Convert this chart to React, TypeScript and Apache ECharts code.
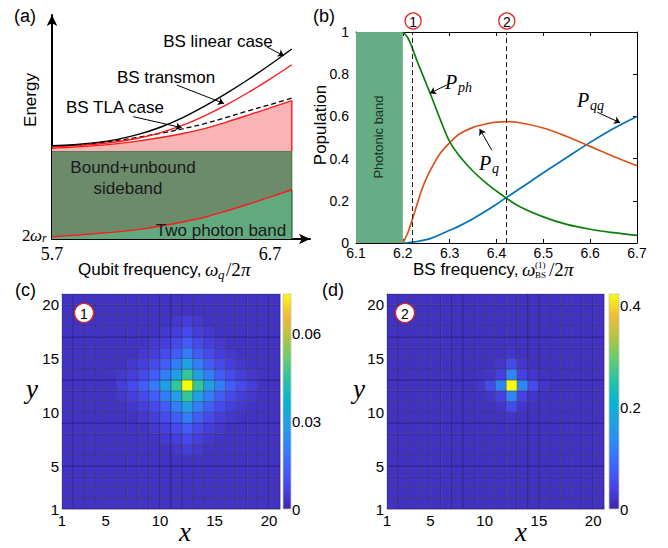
import React, { useEffect, useRef } from 'react';
import * as echarts from 'echarts';

const SANS = '"Liberation Sans", Arial, sans-serif';
const SERIF = '"Liberation Serif", "Times New Roman", serif';

// ---------- Panel (a): energy vs qubit frequency ----------
const qubitFreq = [5.7, 5.8, 5.9, 6.0, 6.1, 6.2, 6.3, 6.4, 6.5, 6.6, 6.7, 6.8];
const bsLinear = [0.417, 0.421, 0.43, 0.445, 0.468, 0.5, 0.542, 0.593, 0.65, 0.712, 0.778, 0.848];
const bsTransmon = [0.412, 0.416, 0.423, 0.434, 0.451, 0.475, 0.508, 0.55, 0.599, 0.654, 0.714, 0.778];
const bsTLA = [0.412, 0.419, 0.428, 0.44, 0.455, 0.472, 0.492, 0.515, 0.543, 0.572, 0.6, 0.629];
const pinkTop = [0.405, 0.41, 0.417, 0.426, 0.438, 0.453, 0.471, 0.493, 0.522, 0.553, 0.585, 0.618];
const twoPhotonTop = [0.01, 0.016, 0.024, 0.032, 0.043, 0.058, 0.076, 0.097, 0.125, 0.155, 0.187, 0.22];
const boundLevel = 0.393;
const qubitTickLabels = [5.7, 6.7];

// ---------- Panel (b): populations vs BS frequency ----------
const bsFreq = [6.2, 6.21, 6.22, 6.23, 6.24, 6.25, 6.26, 6.28, 6.3, 6.32, 6.35, 6.38, 6.4, 6.42, 6.45, 6.5, 6.55, 6.6, 6.65, 6.7];
const pPh = [1.0, 0.975, 0.925, 0.865, 0.81, 0.755, 0.7, 0.585, 0.48, 0.415, 0.34, 0.28, 0.246, 0.214, 0.172, 0.124, 0.088, 0.065, 0.049, 0.036];
const pQ = [0, 0.045, 0.11, 0.18, 0.25, 0.305, 0.35, 0.425, 0.475, 0.515, 0.548, 0.566, 0.573, 0.575, 0.57, 0.545, 0.505, 0.458, 0.41, 0.366];
const pQQ = [0, 0.001, 0.004, 0.007, 0.011, 0.016, 0.022, 0.04, 0.06, 0.08, 0.115, 0.155, 0.184, 0.214, 0.258, 0.333, 0.405, 0.477, 0.543, 0.6];
const markerFreqs = [6.222, 6.422];
const photonicBand = [6.1, 6.2];

// ---------- Panels (c),(d): lattice populations ----------
const latticeTicks = [1, 5, 10, 15, 20];
const N = 20;
const maxC = 0.0736;
const maxD = 0.423;
const cTicks = [0, 0.03, 0.06];
const dTicks = [0, 0.2, 0.4];
// (c) values x1e-3, window columns x=6..18, rows y=18 (top) .. 6
const bgC = 3.3;
const winC = [
  [3.3, 3.3, 3.3, 3.3, 3.3, 4.5, 6, 4.5, 3.3, 3.3, 3.3, 3.3, 3.3],
  [3.3, 3.3, 3.3, 3.3, 4.5, 6, 9, 6, 4.5, 3.3, 3.3, 3.3, 3.3],
  [3.3, 3.3, 3.3, 4.5, 6, 9, 13, 9, 6, 4.5, 3.3, 3.3, 3.3],
  [3.3, 3.3, 4.5, 6, 9, 13, 20, 13, 9, 6, 4.5, 3.3, 3.3],
  [3.3, 4.5, 6, 9, 13, 20, 29, 20, 13, 9, 6, 4.5, 3.3],
  [4.5, 6, 9, 13, 20, 29, 45.5, 29, 20, 13, 9, 6, 4.5],
  [6, 9, 13, 20, 29, 45.5, 73.6, 45.5, 29, 20, 13, 9, 6],
  [4.5, 6, 9, 13, 20, 29, 45.5, 29, 20, 13, 9, 6, 4.5],
  [3.3, 4.5, 6, 9, 13, 20, 29, 20, 13, 9, 6, 4.5, 3.3],
  [3.3, 3.3, 4.5, 6, 9, 13, 20, 13, 9, 6, 4.5, 3.3, 3.3],
  [3.3, 3.3, 3.3, 4.5, 6, 9, 13, 9, 6, 4.5, 3.3, 3.3, 3.3],
  [3.3, 3.3, 3.3, 3.3, 4.5, 6, 9, 6, 4.5, 3.3, 3.3, 3.3, 3.3],
  [3.3, 3.3, 3.3, 3.3, 3.3, 4.5, 6, 4.5, 3.3, 3.3, 3.3, 3.3, 3.3],
];
const winCx0 = 6;
const winCyTop = 18;
// (d) values x1e-3, window columns x=9..15, rows y=15 (top) .. 9
const bgD = 17;
const winD = [
  [17, 17, 17, 24, 17, 17, 17],
  [17, 17, 24, 50, 24, 17, 17],
  [17, 24, 38, 125, 38, 24, 17],
  [24, 50, 125, 423, 125, 50, 24],
  [17, 24, 38, 125, 38, 24, 17],
  [17, 17, 24, 50, 24, 17, 17],
  [17, 17, 17, 24, 17, 17, 17],
];
const winDx0 = 9;
const winDyTop = 15;

const PARULA = ['#3E26A8', '#4743E8', '#4163FD', '#2E87F7', '#1FA1E3', '#05B5CF', '#29C3A5', '#66CC70', '#B3C540', '#F0BC37', '#F9FB0E'];

function buildCells(bg: number, win: number[][], x0: number, yTop: number) {
  const out: number[][] = [];
  for (let x = 1; x <= N; x++) {
    for (let y = 1; y <= N; y++) {
      const r = yTop - y;
      const c = x - x0;
      let v = bg;
      if (r >= 0 && r < win.length && c >= 0 && c < win[0].length) v = win[r][c];
      out.push([x, y, v / 1000]);
    }
  }
  return out;
}

// ---------- layout ----------
const GA = { left: 52, top: 15, width: 258, height: 224 };
const A_XMAX = 5.7 + 258 / 218;
const GB = { left: 356, top: 32, width: 281, height: 211 };
const GC = { left: 62, top: 294, width: 218, height: 215 };
const GD = { left: 387, top: 294, width: 217, height: 215 };
const GCBC = { left: 283, top: 294, width: 8, height: 215 };
const GCBD = { left: 609, top: 294, width: 10, height: 215 };

const bx = (v: number) => GB.left + ((v - 6.1) / 0.6) * GB.width;

function txt(text: string, x: number, y: number, o: any = {}) {
  return {
    type: 'text',
    x,
    y,
    z: 100,
    silent: true,
    rotation: o.rotation || 0,
    style: {
      text,
      fill: o.fill || '#000',
      fontSize: o.size || 16,
      fontFamily: o.family || SANS,
      fontStyle: o.italic ? 'italic' : 'normal',
      align: o.align || 'left',
      verticalAlign: o.va || 'middle',
      textAlign: o.align || 'left',
      textVerticalAlign: o.va || 'middle',
    },
  };
}

function circled(label: string, cx: number, cy: number, r: number, size: number) {
  return [
    { type: 'circle', z: 99, silent: true, shape: { cx, cy, r }, style: { fill: '#fff', stroke: '#e0241b', lineWidth: 1.3 } },
    txt(label, cx, cy + 0.5, { align: 'center', size }),
  ];
}

export default function App() {
  const ref = useRef<HTMLDivElement>(null);
  useEffect(() => {
    if (!ref.current) return;
    const chart = echarts.init(ref.current, undefined, { renderer: 'svg' });

    const pts = (xs: number[], ys: number[]) => xs.map((x, i) => [x, ys[i]]);
    const cellsC = buildCells(bgC, winC, winCx0, winCyTop);
    const cellsD = buildCells(bgD, winD, winDx0, winDyTop);

    const heatRender = (params: any, api: any) => {
      const x = api.value(0);
      const y = api.value(1);
      const p0 = api.coord([x, y + 1]);
      const p1 = api.coord([x + 1, y]);
      return {
        type: 'rect',
        shape: { x: p0[0], y: p0[1], width: p1[0] - p0[0], height: p1[1] - p0[1] },
        style: { fill: api.visual('color'), stroke: 'rgba(0,0,0,0.3)', lineWidth: 0.8 },
      };
    };
    const barRender = (params: any, api: any) => {
      const p0 = api.coord([0, api.value(1)]);
      const p1 = api.coord([1, 0]);
      return {
        type: 'rect',
        shape: { x: p0[0], y: p0[1], width: p1[0] - p0[0], height: p1[1] - p0[1] },
        style: {
          fill: new echarts.graphic.LinearGradient(0, 1, 0, 0, PARULA.map((c, i) => ({ offset: i / (PARULA.length - 1), color: c }))),
          stroke: '#c4c4c4',
          lineWidth: 0.8,
        },
      };
    };

    const lineS = (xi: number, yi: number, data: any, color: string, extra: any = {}) => ({
      type: 'line',
      xAxisIndex: xi,
      yAxisIndex: yi,
      data,
      showSymbol: false,
      symbol: 'none',
      smooth: 0.35,
      lineStyle: { color, width: 1.4 },
      z: 3,
      ...extra,
    });

    const series: any[] = [];
    // panel (a)
    series.push({
      type: 'line', xAxisIndex: 0, yAxisIndex: 0, symbol: 'none', showSymbol: false,
      data: [[5.7, boundLevel], [6.8, boundLevel], [6.8, 0]],
      lineStyle: { color: '#3f6b4c', width: 1 },
      areaStyle: { color: '#6B8B6A', opacity: 1, origin: 0 },
      z: 1,
    });
    series.push({
      ...lineS(0, 0, pts(qubitFreq, twoPhotonTop), '#ff1a1a'),
      areaStyle: { color: '#63A980', opacity: 1, origin: 0 },
      z: 2,
    });
    series.push({
      ...lineS(0, 0, pts(qubitFreq, pinkTop), '#ff1a1a'),
      areaStyle: { color: '#FAB4B4', opacity: 1, origin: boundLevel },
      z: 2,
    });
    series.push({
      type: 'line', xAxisIndex: 0, yAxisIndex: 0, symbol: 'none', showSymbol: false, z: 3,
      data: [[6.8, boundLevel], [6.8, pinkTop[pinkTop.length - 1]]],
      lineStyle: { color: '#ff1a1a', width: 1.4 },
    });
    series.push({
      type: 'line', xAxisIndex: 0, yAxisIndex: 0, symbol: 'none', showSymbol: false, z: 3,
      data: [[6.8, 0], [6.8, twoPhotonTop[twoPhotonTop.length - 1]]],
      lineStyle: { color: '#2f6b45', width: 1.2 },
    });
    series.push(lineS(0, 0, pts(qubitFreq, bsTLA), '#000', { lineStyle: { color: '#000', width: 1.3, type: [5, 3] } }));
    series.push(lineS(0, 0, pts(qubitFreq, bsTransmon), '#ff1a1a'));
    series.push(lineS(0, 0, pts(qubitFreq, bsLinear), '#000'));
    series.push({
      type: 'lines', coordinateSystem: 'cartesian2d', xAxisIndex: 0, yAxisIndex: 0, z: 5,
      symbol: ['none', 'arrow'], symbolSize: 6,
      lineStyle: { color: '#000', width: 1, opacity: 1 },
      data: [
        { coords: [[6.685, 0.858], [6.764, 0.818]] },
        { coords: [[6.272, 0.6875], [6.489, 0.605]] },
        { coords: [[6.073, 0.546], [6.295, 0.497]] },
      ],
    });
    // panel (b)
    series.push({
      type: 'line', xAxisIndex: 1, yAxisIndex: 1, symbol: 'none', showSymbol: false,
      data: [[photonicBand[0], 1], [photonicBand[1], 1]],
      lineStyle: { width: 0 },
      areaStyle: { color: '#66AD86', opacity: 1, origin: 'start' },
      z: 1,
    });
    series.push({
      type: 'line', xAxisIndex: 1, yAxisIndex: 1, symbol: 'none', data: [],
      markLine: {
        silent: true, symbol: 'none', label: { show: false },
        lineStyle: { color: '#222', width: 1, type: [5, 3] },
        data: markerFreqs.map((v) => ({ xAxis: v })),
      },
    });
    series.push(lineS(1, 1, pts(bsFreq, pQQ), '#0072BD', { lineStyle: { color: '#0072BD', width: 1.7 } }));
    series.push(lineS(1, 1, pts(bsFreq, pQ), '#D95319', { lineStyle: { color: '#D95319', width: 1.7 } }));
    series.push(lineS(1, 1, pts(bsFreq, pPh), '#0A800A', { lineStyle: { color: '#0A800A', width: 1.7 } }));
    series.push({
      type: 'lines', coordinateSystem: 'cartesian2d', xAxisIndex: 1, yAxisIndex: 1, z: 5,
      symbol: ['none', 'arrow'], symbolSize: 6,
      lineStyle: { color: '#000', width: 1, opacity: 1 },
      data: [
        { coords: [[6.294, 0.749], [6.258, 0.71]] },
        { coords: [[6.39, 0.44], [6.364, 0.54]] },
        { coords: [[6.615, 0.62], [6.664, 0.57]] },
      ],
    });
    // panel (c),(d)
    const idxC = series.length;
    series.push({ type: 'custom', xAxisIndex: 3, yAxisIndex: 3, data: cellsC, encode: { x: 0, y: 1 }, renderItem: heatRender, z: 2 });
    const idxD = series.length;
    series.push({ type: 'custom', xAxisIndex: 5, yAxisIndex: 5, data: cellsD, encode: { x: 0, y: 1 }, renderItem: heatRender, z: 2 });
    series.push({ type: 'custom', xAxisIndex: 7, yAxisIndex: 7, data: [[0, maxC]], renderItem: barRender, z: 2 });
    series.push({ type: 'custom', xAxisIndex: 8, yAxisIndex: 8, data: [[0, maxD]], renderItem: barRender, z: 2 });

    const lab = (size: number, extra: any = {}) => ({ color: '#000', fontSize: size, fontFamily: SANS, ...extra });
    const boxAxis = (grid: number, pos: string, min: number, max: number) => ({
      type: 'value', gridIndex: grid, position: pos, min, max,
      axisLine: { show: true, onZero: false, lineStyle: { color: '#c4c4c4', width: 1 } },
      axisTick: { show: false }, axisLabel: { show: false }, splitLine: { show: false },
    });
    const latX = (grid: number) => ({
      type: 'value', gridIndex: grid, min: 1, max: 21,
      axisLine: { show: true, onZero: false, lineStyle: { color: '#c4c4c4', width: 1 } },
      axisTick: { show: false },
      axisLabel: { ...lab(15), margin: 4, customValues: latticeTicks },
      splitLine: { show: false },
    });
    const bTick = { show: true, inside: true, length: 4, lineStyle: { color: '#000', width: 1 } };

    const xAxis: any[] = [
      {
        type: 'value', gridIndex: 0, min: 5.7, max: A_XMAX,
        axisLine: { show: true, onZero: false, symbol: ['none', 'arrow'], symbolSize: [8, 11], lineStyle: { color: '#000', width: 2 } },
        axisTick: { show: true, inside: true, length: 4, customValues: [6.7], lineStyle: { color: '#000', width: 1.5 } },
        axisLabel: { color: '#000', fontSize: 18, fontFamily: SERIF, margin: 6, customValues: qubitTickLabels, formatter: (v: number) => v.toFixed(1) },
        splitLine: { show: false },
      },
      {
        type: 'value', gridIndex: 1, min: 6.1, max: 6.7, interval: 0.1,
        axisLine: { show: true, onZero: false, lineStyle: { color: '#000', width: 1 } },
        axisTick: bTick,
        axisLabel: { ...lab(14), margin: 3, formatter: (v: number) => v.toFixed(1) },
        splitLine: { show: false },
      },
      {
        type: 'value', gridIndex: 1, position: 'top', min: 6.1, max: 6.7, interval: 0.1,
        axisLine: { show: true, onZero: false, lineStyle: { color: '#000', width: 1 } },
        axisTick: bTick, axisLabel: { show: false }, splitLine: { show: false },
      },
      latX(2),
      boxAxis(2, 'top', 1, 21),
      latX(3),
      boxAxis(3, 'top', 1, 21),
      { type: 'value', gridIndex: 4, min: 0, max: 1, show: false },
      { type: 'value', gridIndex: 5, min: 0, max: 1, show: false },
    ];
    const yAxis: any[] = [
      {
        type: 'value', gridIndex: 0, min: 0, max: 1,
        axisLine: { show: true, onZero: false, symbol: ['none', 'arrow'], symbolSize: [8, 11], lineStyle: { color: '#000', width: 2 } },
        axisTick: { show: false }, axisLabel: { show: false }, splitLine: { show: false },
      },
      {
        type: 'value', gridIndex: 1, min: 0, max: 1, interval: 0.2,
        axisLine: { show: true, onZero: false, lineStyle: { color: '#000', width: 1 } },
        axisTick: bTick,
        axisLabel: { ...lab(14), margin: 7, formatter: (v: number) => (v === 0 ? '0' : v === 1 ? '1' : v.toFixed(1)) },
        splitLine: { show: false },
      },
      {
        type: 'value', gridIndex: 1, position: 'right', min: 0, max: 1, interval: 0.2,
        axisLine: { show: true, onZero: false, lineStyle: { color: '#000', width: 1 } },
        axisTick: bTick, axisLabel: { show: false }, splitLine: { show: false },
      },
      { ...latX(2), axisLabel: { ...lab(15), margin: 3, customValues: latticeTicks } },
      boxAxis(2, 'right', 1, 21),
      { ...latX(3), axisLabel: { ...lab(15), margin: 3, customValues: latticeTicks } },
      boxAxis(3, 'right', 1, 21),
      {
        type: 'value', gridIndex: 4, position: 'right', min: 0, max: maxC,
        axisLine: { show: false }, axisTick: { show: false }, splitLine: { show: false },
        axisLabel: { ...lab(15), margin: 1, customValues: cTicks, formatter: (v: number) => (v === 0 ? '0' : String(v)) },
      },
      {
        type: 'value', gridIndex: 5, position: 'right', min: 0, max: maxD,
        axisLine: { show: false }, axisTick: { show: false }, splitLine: { show: false },
        axisLabel: { ...lab(15), margin: 1, customValues: dTicks, formatter: (v: number) => (v === 0 ? '0' : String(v)) },
      },
    ];

    const g: any[] = [
      txt('(a)', 14, 16, { size: 18 }),
      txt('(b)', 313, 16, { size: 18 }),
      txt('(c)', 15, 290, { size: 18 }),
      txt('(d)', 322, 290, { size: 18 }),
      txt('Energy', 30, 100, { align: 'center', rotation: Math.PI / 2, size: 17 }),
      txt('Population', 320, 125, { align: 'center', rotation: Math.PI / 2, size: 17 }),
      txt('Photonic band', 378, 137, { align: 'center', rotation: Math.PI / 2, size: 13, fill: '#1d3326' }),
      txt('BS linear case', 218, 41, { align: 'center', size: 17 }),
      txt('BS transmon', 166, 77, { align: 'center', size: 17 }),
      txt('BS TLA case', 115, 107, { align: 'center', size: 17 }),
      txt('Bound+unbound', 133, 167, { align: 'center', fill: '#1a1a1a', size: 17 }),
      txt('sideband', 128, 188, { align: 'center', fill: '#1a1a1a', size: 17 }),
      txt('Two photon band', 221, 230, { align: 'center', fill: '#1a1a1a', size: 17 }),
      // 2ω_r
      txt('2', 22, 235, { family: SERIF, size: 17 }),
      txt('ω', 30, 235, { family: SERIF, size: 17, italic: true }),
      txt('r', 42, 238, { family: SERIF, size: 12, italic: true }),
      // x label (a)
      txt('Qubit frequency,', 78, 269, { size: 17 }),
      txt('ω', 205, 269, { family: SERIF, size: 19, italic: true }),
      txt('q', 218, 274, { family: SERIF, size: 13, italic: true }),
      txt('/2', 226, 269, { family: SERIF, size: 19 }),
      txt('π', 241, 269, { family: SERIF, size: 19, italic: true }),
      // x label (b)
      txt('BS frequency,', 413, 269, { size: 17 }),
      txt('ω', 522, 269, { family: SERIF, size: 19, italic: true }),
      txt('(1)', 535, 264.5, { family: SERIF, size: 9 }),
      txt('BS', 535, 275, { family: SERIF, size: 9 }),
      txt('/2', 549, 269, { family: SERIF, size: 19 }),
      txt('π', 564, 269, { family: SERIF, size: 19, italic: true }),
      // P labels
      txt('P', 445, 82, { family: SERIF, size: 20, italic: true }),
      txt('ph', 458, 87, { family: SERIF, size: 14, italic: true }),
      txt('P', 479, 163, { family: SERIF, size: 20, italic: true }),
      txt('q', 492, 168, { family: SERIF, size: 14, italic: true }),
      txt('P', 577, 100, { family: SERIF, size: 20, italic: true }),
      txt('qq', 590, 105, { family: SERIF, size: 14, italic: true }),
      // big x, y
      txt('x', 185, 532, { family: SERIF, size: 27, italic: true, align: 'center' }),
      txt('y', 32, 389, { family: SERIF, size: 27, italic: true, align: 'center' }),
      txt('x', 521, 532, { family: SERIF, size: 27, italic: true, align: 'center' }),
      txt('y', 359, 389, { family: SERIF, size: 27, italic: true, align: 'center' }),
      ...circled('1', bx(markerFreqs[0]), 21, 8, 14),
      ...circled('2', bx(markerFreqs[1]), 21, 8, 14),
      ...circled('1', 84, 313, 9.5, 14),
      ...circled('2', 405, 313, 9.5, 14),
    ];

    chart.setOption({
      animation: false,
      backgroundColor: '#fff',
      grid: [GA, GB, GC, GD, GCBC, GCBD].map((gg) => ({ ...gg, containLabel: false })),
      xAxis,
      yAxis,
      visualMap: [
        { type: 'continuous', show: false, seriesIndex: idxC, dimension: 2, min: 0, max: maxC, inRange: { color: PARULA } },
        { type: 'continuous', show: false, seriesIndex: idxD, dimension: 2, min: 0, max: maxD, inRange: { color: PARULA } },
      ],
      series,
      graphic: g,
    });
    return () => chart.dispose();
  }, []);
  return <div ref={ref} style={{ position: 'absolute', left: 0, top: 0, width: 668, height: 548, background: '#fff' }} />;
}
